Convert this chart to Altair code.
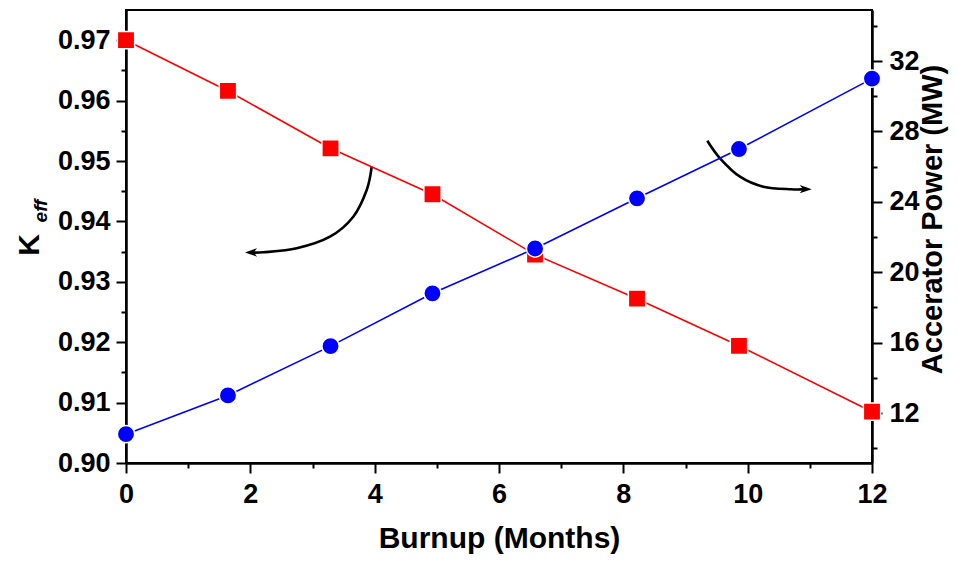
import altair as alt
import pandas as pd

# ---- data ----
months = [0.0, 1.64, 3.29, 4.93, 6.58, 8.22, 9.86, 12.0]
keff = [0.9700, 0.9616, 0.9521, 0.9445, 0.9345, 0.9272, 0.9194, 0.9085]
power = [10.8, 13.0, 15.8, 18.8, 21.35, 24.2, 27.0, 31.0]

x_ticks = [0, 2, 4, 6, 8, 10, 12]
x_minor = [1, 3, 5, 7, 9, 11]
keff_ticks = [0.90, 0.91, 0.92, 0.93, 0.94, 0.95, 0.96, 0.97]
keff_minor = [0.905, 0.915, 0.925, 0.935, 0.945, 0.955, 0.965]
power_ticks = [12, 16, 20, 24, 28, 32]
power_minor = [10, 14, 18, 22, 26, 30, 34]

# annotation arrows (in month / Keff coordinates)
arrow_left_x = [3.952, 3.872, 3.656, 3.281, 2.746, 2.209, 2.011]
arrow_left_y = [0.94906, 0.94520, 0.94078, 0.93747, 0.93555, 0.93489, 0.93486]
arrow_right_x = [9.351, 9.555, 9.877, 10.251, 10.698, 10.934]
arrow_right_y = [0.95336, 0.95045, 0.94740, 0.94575, 0.94532, 0.94534]
head_left = (2.011, 0.93486)
head_right = (10.934, 0.94534)

XDOM = [0, 12]
KDOM = [0.90, 0.975]
PDOM = [9.16, 34.9]
FONT = "Liberation Sans"

df = pd.DataFrame({"month": months, "keff": keff, "power": power})
arrows = pd.DataFrame({
    "ax": arrow_left_x + arrow_right_x,
    "ay": arrow_left_y + arrow_right_y,
    "id": ["L"] * len(arrow_left_x) + ["R"] * len(arrow_right_x),
    "i": list(range(len(arrow_left_x))) + list(range(len(arrow_right_x))),
})
hl = pd.DataFrame({"ax": [head_left[0]], "ay": [head_left[1]]})
hr = pd.DataFrame({"ax": [head_right[0]], "ay": [head_right[1]]})

axis_common = dict(
    domainColor="black", domainWidth=2, tickColor="black", tickWidth=2,
    labelFont=FONT, labelFontWeight="bold", labelFontSize=27, labelColor="black",
    titleFont=FONT, titleFontWeight="bold", titleColor="black",
    grid=False, labelFlush=False, labelOverlap=False,
)

x_major = alt.X("month:Q", scale=alt.Scale(domain=XDOM, nice=False),
                axis=alt.Axis(orient="bottom", values=x_ticks, format="d", tickSize=10,
                              labelPadding=8, title="Burnup (Months)", titleFontSize=30,
                              titleBaseline="middle", titleY=75, **axis_common))
x_minor_enc = alt.X("month:Q", scale=alt.Scale(domain=XDOM, nice=False),
                    axis=alt.Axis(orient="bottom", values=x_minor, tickSize=5,
                                  labels=False, title=None,
                                  domainColor="black", domainWidth=2, tickColor="black",
                                  tickWidth=2, grid=False))
x_none = lambda f: alt.X(f, scale=alt.Scale(domain=XDOM, nice=False), axis=None)

red = alt.Chart(df).mark_line(
    color="#ff0000", strokeWidth=1.6,
    point=alt.OverlayMarkDef(shape="square", size=300, filled=True, fill="#ff0000",
                             stroke="white", strokeWidth=1.5, opacity=1),
).encode(
    x=x_major,
    y=alt.Y("keff:Q", scale=alt.Scale(domain=KDOM, nice=False, zero=False),
            axis=alt.Axis(orient="left", values=keff_ticks, format=".2f", tickSize=10,
                          labelPadding=6, title=None, **axis_common)),
)

left_minor = alt.Chart(df).mark_point(opacity=0).encode(
    x=x_minor_enc,
    y=alt.Y("keff:Q", scale=alt.Scale(domain=KDOM, nice=False, zero=False),
            axis=alt.Axis(orient="left", values=keff_minor, tickSize=5, labels=False,
                          title=None, domainColor="black", domainWidth=2,
                          tickColor="black", tickWidth=2, grid=False)),
)

blue = alt.Chart(df).mark_line(
    color="#0000ff", strokeWidth=1.6,
    point=alt.OverlayMarkDef(shape="circle", size=300, filled=True, fill="#0000ff",
                             stroke="white", strokeWidth=1.5, opacity=1),
).encode(
    x=x_none("month:Q"),
    y=alt.Y("power:Q", scale=alt.Scale(domain=PDOM, nice=False, zero=False),
            axis=alt.Axis(orient="right", values=power_ticks, format="d", tickSize=10,
                          labelPadding=7, title="Accerator Power (MW)", titleAngle=270,
                          titleFontSize=29, titleX=60, titleY=209,
                          titleBaseline="middle", **axis_common)),
)

right_minor = alt.Chart(df).mark_point(opacity=0).encode(
    x=x_none("month:Q"),
    y=alt.Y("power:Q", scale=alt.Scale(domain=PDOM, nice=False, zero=False),
            axis=alt.Axis(orient="right", values=power_minor, tickSize=5, labels=False,
                          title=None, domainColor="black", domainWidth=2,
                          tickColor="black", tickWidth=2, grid=False)),
)

y_arrow = lambda: alt.Y("ay:Q", scale=alt.Scale(domain=KDOM, nice=False, zero=False), axis=None)

arrow_lines = alt.Chart(arrows).mark_line(color="black", strokeWidth=2.6,
                                          interpolate="cardinal").encode(
    x=x_none("ax:Q"), y=y_arrow(), detail="id:N", order="i:Q",
)
head_l = alt.Chart(hl).mark_point(
    shape="M -1 0 L 1 -0.7 L 0.45 0 L 1 0.7 Z", size=144, filled=True,
    color="black", opacity=1).encode(x=x_none("ax:Q"), y=y_arrow())
head_r = alt.Chart(hr).mark_point(
    shape="M 1 0 L -1 -0.7 L -0.45 0 L -1 0.7 Z", size=144, filled=True,
    color="black", opacity=1).encode(x=x_none("ax:Q"), y=y_arrow())

title_df = pd.DataFrame({"t": ["K"]})
k_text = alt.Chart(title_df).mark_text(
    text="K", angle=270, font=FONT, fontWeight="bold", fontSize=30, color="black",
    align="center", baseline="middle").encode(x=alt.value(-96), y=alt.value(235))
eff_text = alt.Chart(title_df).mark_text(
    text="eff", angle=270, font=FONT, fontWeight="bold", fontStyle="italic",
    fontSize=19, color="black", align="center", baseline="middle"
).encode(x=alt.value(-85), y=alt.value(201))

chart = alt.layer(
    left_minor, right_minor, arrow_lines, head_l, head_r, red, blue, k_text, eff_text
).resolve_scale(
    x="independent", y="independent"
).properties(
    width=746, height=453,
    autosize=alt.AutoSizeParams(type="none"),
    padding={"left": 118, "top": 2, "right": 77, "bottom": 92},
    background="white",
).configure_view(stroke="black", strokeWidth=2)

chart.save("out.html", embed_options={"renderer": "svg", "actions": False})
